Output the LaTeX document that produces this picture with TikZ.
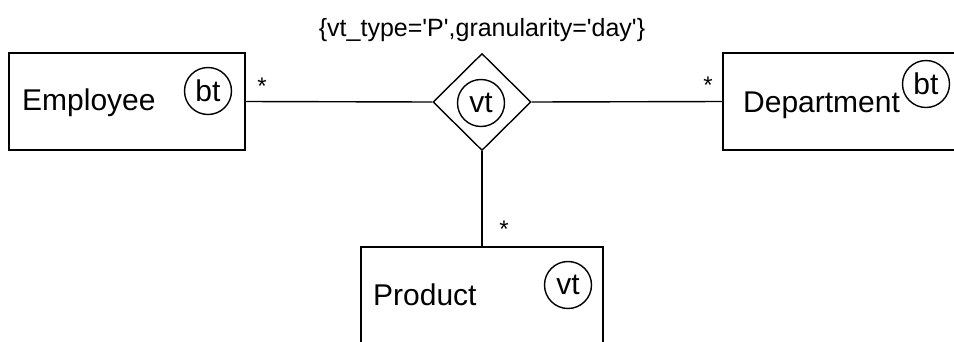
\documentclass[tikz,border=0pt]{standalone}
\usepackage{fontspec}
\setmainfont{Liberation Sans}
\usetikzlibrary{shapes.geometric}
\begin{document}
\begin{tikzpicture}[x=1pt,y=-1pt,
  ln/.style={line width=1.4pt,draw=black},
  entbox/.style={ln,rectangle,inner sep=0pt},
  reldia/.style={ln,diamond,inner sep=0pt,minimum width=98pt,minimum height=97pt},
  tag/.style={ln,circle,inner sep=0pt,minimum size=47pt,font=\fontsize{30}{31}\selectfont},
  lbl/.style={inner sep=0pt,font=\fontsize{30}{32}\selectfont},
  mult/.style={inner sep=0pt,font=\fontsize{24}{26}\selectfont},
  ttl/.style={inner sep=0pt,font=\fontsize{25}{27}\selectfont}]
\useasboundingbox (0,0) rectangle (954,341);
\clip (0,0) rectangle (954,341);
% entities
\node[entbox,minimum width=236pt,minimum height=97pt] (emp) at (127,101.5) {};
\node[entbox,minimum width=260pt,minimum height=97pt] (dep) at (853,101.5) {};
\node[entbox,minimum width=242pt,minimum height=130pt] (prod) at (482,312) {};
% relationship
\node[reldia] (rel) at (482,102) {};
% labels
\node[lbl,anchor=base west] (empL) at (22,110) {Employee};
\node[lbl,anchor=base west] (depL) at (743,112) {Department};
\node[lbl,anchor=base west] (prodL) at (373,305) {Product};
% tags
\node[tag] (empT) at (208,91) {bt};
\node[tag] (relT) at (481,103) {vt};
\node[tag] (depT) at (926,84) {bt};
\node[tag] (prodT) at (568,285) {vt};
% title
\node[ttl] (title) at (482,30) {\{vt\_type=\textquotesingle P\textquotesingle,granularity=\textquotesingle day\textquotesingle\}};
% connectors
\draw[ln] (emp.east) -- (rel.west);
\draw[ln] (rel.east) -- (dep.west);
\draw[ln] (rel.south) -- (prod.north);
% multiplicities
\node[mult] (m1) at (262,86) {*};
\node[mult] (m2) at (708,85) {*};
\node[mult] (m3) at (504,229) {*};
\end{tikzpicture}
\end{document}
